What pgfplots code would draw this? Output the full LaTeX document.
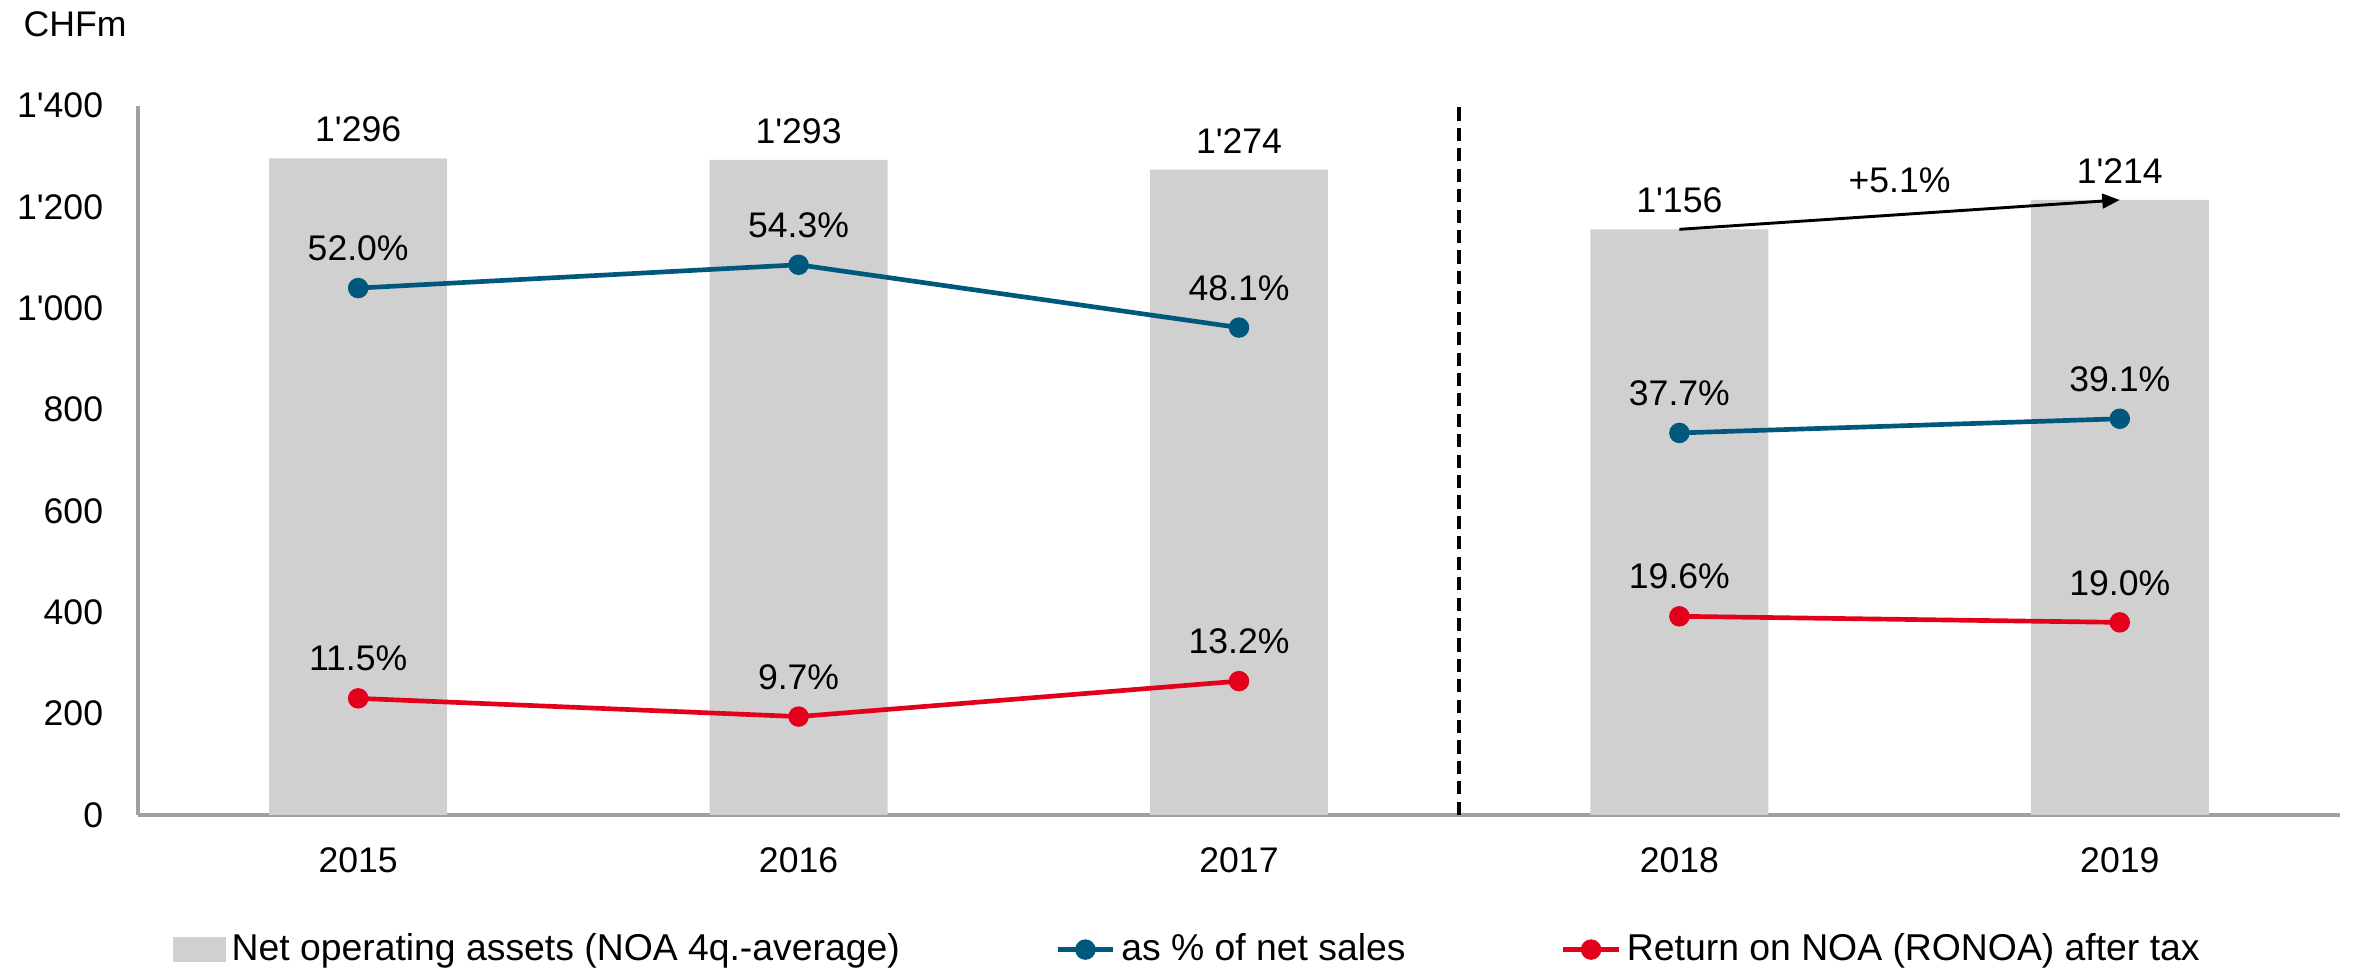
\documentclass[border=0pt]{standalone}
\usepackage{fontspec}
\setmainfont{Liberation Sans}
\usepackage{pgfplots}
\pgfplotsset{compat=1.18}
\usetikzlibrary{arrows.meta}

\definecolor{noagray}{RGB}{208,208,208}
\definecolor{salesblue}{RGB}{0,88,124}
\definecolor{ronoared}{RGB}{227,0,27}
\definecolor{axisgray}{RGB}{160,160,160}

\begin{document}
\fontsize{12.2}{14.6}\selectfont
\begin{tikzpicture}
\path[use as bounding box] (0,0) rectangle (807pt,331.8pt);
\begin{axis}[
    at={(47.3pt,52.45pt)}, anchor=south west,
    scale only axis, width=754.9pt, height=243.1pt,
    xmin=-0.5, xmax=4.5, ymin=0, ymax=1400,
    xtick={0,1,2,3,4},
    xticklabels={2015,2016,2017,2018,2019},
    ytick={0,200,...,1400},
    axis x line*=bottom, axis y line*=left,
    axis line style={axisgray, line width=1.6pt, -},
    major tick length=0pt,
    /pgf/number format/1000 sep={\textquotesingle},
    /pgf/number format/assume math mode=true,
    xticklabel style={yshift=-7pt},
    yticklabel style={xshift=-7.7pt},
    clip=false,
    legend style={at={(0.0118,-0.19)}, anchor=west, draw=none, fill=none,
        font=\fontsize{12.8}{15}\selectfont,
        legend columns=3,
        /tikz/every even column/.append style={column sep=51.3pt}},
]

% net operating assets (bars)
\addplot[ybar, bar width=61pt, fill=noagray, draw=none,
    nodes near coords={\pgfmathprintnumber{\pgfplotspointmeta}},
    every node near coord/.append style={black, anchor=south, yshift=1.3pt},
    legend image code/.code={\fill[noagray] (0pt,-4.3pt) rectangle (18pt,4.3pt);}]
    coordinates {(0,1296) (1,1293) (2,1274) (3,1156) (4,1214)};
\addlegendentry{Net operating assets (NOA 4q.-average)}

% percentages, plotted at 20x their value
\pgfplotsset{pctline/.style={line width=1.6pt, mark=*, mark size=2.7pt,
    point meta=explicit,
    nodes near coords={\pgfmathprintnumber[fixed,fixed zerofill,precision=1]{\pgfplotspointmeta}\%},
    every node near coord/.append style={black, anchor=south, yshift=4.4pt},
    legend image code/.code={\draw[##1, mark repeat=2, mark phase=2]
        plot coordinates {(0pt,0pt) (9.5pt,0pt) (19pt,0pt)};}}}

\addplot[salesblue, pctline] coordinates {(0,1040) [52.0] (1,1086) [54.3] (2,962) [48.1]};
\addlegendentry{as \% of net sales}
\addplot[salesblue, pctline, forget plot] coordinates {(3,754) [37.7] (4,782) [39.1]};

\addplot[ronoared, pctline] coordinates {(0,230) [11.5] (1,194) [9.7] (2,264) [13.2]};
\addlegendentry{Return on NOA (RONOA) after tax}
\addplot[ronoared, pctline, forget plot] coordinates {(3,392) [19.6] (4,380) [19.0]};

\draw[black, line width=1.2pt, dash pattern=on 4.5pt off 2.5pt] (axis cs:2.5,0) -- (axis cs:2.5,1400);
\draw[black, line width=1pt, -{Triangle[length=6pt,width=5pt]}] (axis cs:3,1156) -- (axis cs:4,1214);
\node[yshift=11.7pt] at (axis cs:3.5,1185) {+5.1\%};
\end{axis}
\node[anchor=west, inner sep=0pt] at (7.9pt,323.5pt) {CHFm};
\end{tikzpicture}
\end{document}
